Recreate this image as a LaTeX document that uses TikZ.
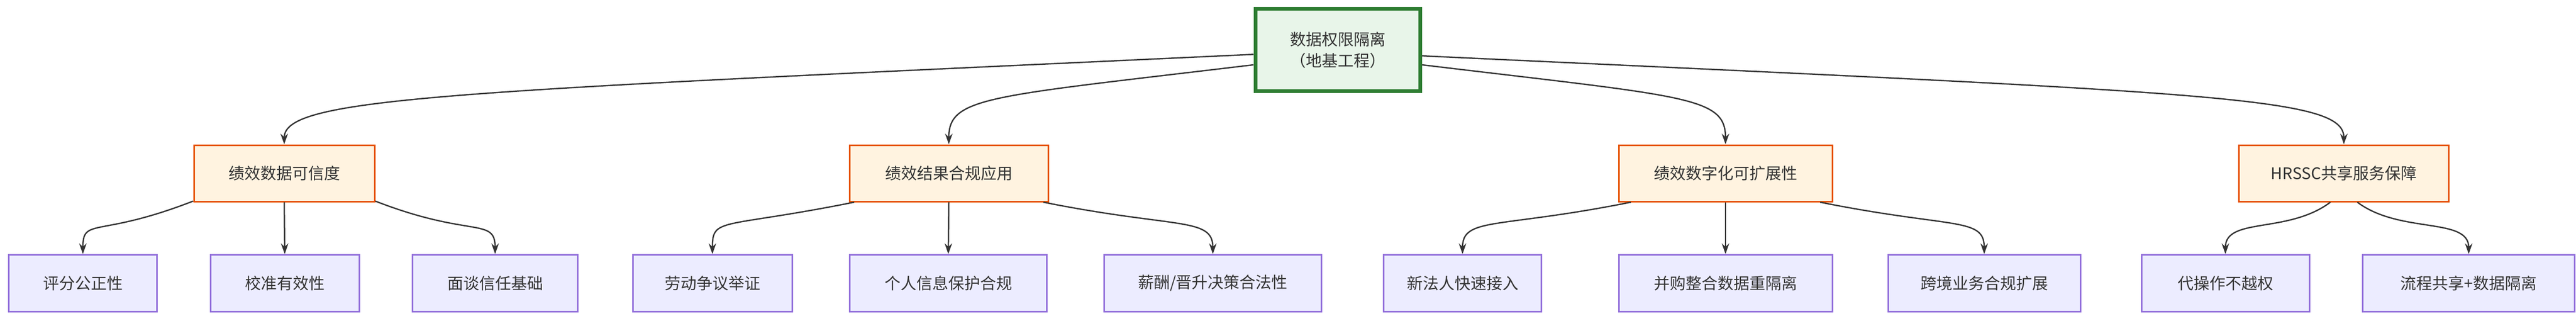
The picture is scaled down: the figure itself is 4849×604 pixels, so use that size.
\documentclass[tikz,border=0pt]{standalone}
\usepackage{fontspec}
\setmainfont{Noto Sans CJK SC}
\usetikzlibrary{arrows.meta}
\definecolor{rootfill}{HTML}{E8F5E9}
\definecolor{rootline}{HTML}{2E7D32}
\definecolor{midfill}{HTML}{FFF3E0}
\definecolor{midline}{HTML}{E65100}
\definecolor{leaffill}{HTML}{ECECFF}
\definecolor{leafline}{HTML}{9370DB}
\definecolor{ink}{HTML}{333333}
\begin{document}
\begin{tikzpicture}[
    x=1pt, y=-1pt,
    font=\fontsize{30}{40}\selectfont,
    text=ink,
    every node/.style = {
      shape=rectangle,
      inner sep=0pt,
      align=center
    },
    root/.style = {fill=rootfill, draw=rootline, line width=7pt,
      minimum width=310pt, minimum height=155pt},
    mid/.style = {fill=midfill, draw=midline, line width=3pt, minimum height=106pt},
    leaf/.style = {fill=leaffill, draw=leafline, line width=3pt, minimum height=107pt},
    link/.style = {draw=ink, line width=2.5pt, -{Stealth[length=20pt,width=14pt]}}
    ]
    \useasboundingbox (0,0) rectangle (4849,604);

    \node[root] (root) at (2518,94) {数据权限隔离\\（地基工程）};

    \node[mid, minimum width=340pt] (cred) at (535,326) {绩效数据可信度};
    \node[mid, minimum width=374pt] (comp) at (1786,326) {绩效结果合规应用};
    \node[mid, minimum width=402pt] (scal) at (3248,326) {绩效数字化可扩展性};
    \node[mid, minimum width=395pt] (hrssc) at (4412,326) {HRSSC共享服务保障};

    \node[leaf, minimum width=279pt] (fair) at (156,533) {评分公正性};
    \node[leaf, minimum width=280pt] (calib) at (536,533) {校准有效性};
    \node[leaf, minimum width=311pt] (trust) at (932,533) {面谈信任基础};
    \node[leaf, minimum width=300pt] (labor) at (1341,533) {劳动争议举证};
    \node[leaf, minimum width=371pt] (privacy) at (1785,533) {个人信息保护合规};
    \node[leaf, minimum width=409pt] (salary) at (2283,533) {薪酬/晋升决策合法性};
    \node[leaf, minimum width=297pt] (newco) at (2753,533) {新法人快速接入};
    \node[leaf, minimum width=402pt] (merge) at (3248,533) {并购整合数据重隔离};
    \node[leaf, minimum width=362pt] (cross) at (3735,533) {跨境业务合规扩展};
    \node[leaf, minimum width=316pt] (proxy) at (4189,533) {代操作不越权};
    \node[leaf, minimum width=399pt] (share) at (4647,533) {流程共享+数据隔离};

    % root to middle level
    \draw[link] (root.183.6) .. controls +(-1500,70) and +(0,-90) .. (cred.north);
    \draw[link] (root.190) .. controls +(-500,60) and +(0,-90) .. (comp.north);
    \draw[link] (root.350) .. controls +(500,60) and +(0,-90) .. (scal.north);
    \draw[link] (root.356.4) .. controls +(1500,70) and +(0,-90) .. (hrssc.north);

    % middle to leaves
    \draw[link] (cred.197) .. controls +(-180,70) and +(0,-70) .. (fair.north);
    \draw[link] (cred.south) -- (calib.north);
    \draw[link] (cred.343) .. controls +(180,70) and +(0,-70) .. (trust.north);
    \draw[link] (comp.197) .. controls +(-250,50) and +(0,-70) .. (labor.north);
    \draw[link] (comp.south) -- (privacy.north);
    \draw[link] (comp.343) .. controls +(250,50) and +(0,-70) .. (salary.north);
    \draw[link] (scal.197) .. controls +(-250,50) and +(0,-70) .. (newco.north);
    \draw[link] (scal.south) -- (merge.north);
    \draw[link] (scal.343) .. controls +(250,50) and +(0,-70) .. (cross.north);
    \draw[link] (hrssc.245) .. controls +(-80,60) and +(0,-70) .. (proxy.north);
    \draw[link] (hrssc.295) .. controls +(80,60) and +(0,-70) .. (share.north);
\end{tikzpicture}
\end{document}
